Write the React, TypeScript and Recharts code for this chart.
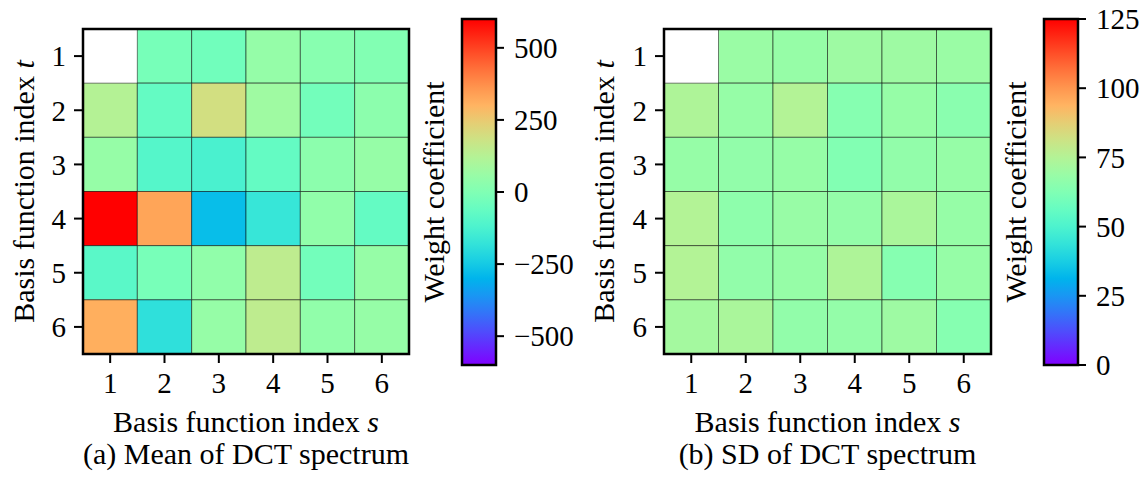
import React from 'react';
import { ComposedChart, Scatter, XAxis, YAxis, ReferenceArea } from 'recharts';

// basis function indices (s = columns, t = rows)
const sIndex = [1, 2, 3, 4, 5, 6];
const tIndex = [1, 2, 3, 4, 5, 6];

// (a) mean of DCT spectrum, rows t = 1..6, cols s = 1..6 (null = DC term, not shown)
const meanValues: (number | null)[][] = [
  [null, -20, -35, 50, 20, 5],
  [124, -65, 194, 75, -30, 30],
  [53, -100, -125, -65, 30, 53],
  [600, 331, -280, -170, 41, -65],
  [-89, -18, 41, 147, -29, 53],
  [311, -190, 53, 147, 41, 53],
];

// (b) SD of DCT spectrum
const sdValues: (number | null)[][] = [
  [null, 69, 68, 70, 70, 69],
  [74, 68, 75, 64, 68, 65],
  [68, 67, 68, 63, 67, 68],
  [75, 66, 68.5, 67.5, 73, 68],
  [75, 67, 68, 74, 64, 68],
  [71.5, 73, 67, 67.5, 70, 64],
];

const meanRange = [-600, 600];
const meanTicks = [-500, -250, 0, 250, 500];
const sdRange = [0, 125];
const sdTicks = [0, 25, 50, 75, 100, 125];

const FONT = "'Liberation Serif', 'DejaVu Serif', 'Times New Roman', serif";
const tickStyle = { fill: '#000', fontSize: 29, style: { fontFamily: FONT } };
const textStyle = { fontFamily: FONT };

// matplotlib "rainbow" colormap
const rainbow = (x: number) => {
  const c = (v: number) => Math.round(Math.min(1, Math.max(0, v)) * 255);
  const r = Math.abs(2 * x - 0.5);
  const g = Math.sin(Math.PI * x);
  const b = Math.cos((Math.PI * x) / 2);
  return `rgb(${c(r)},${c(g)},${c(b)})`;
};

const fmt = (v: number) => (v < 0 ? `\u2212${-v}` : `${v}`);

const xLabel = (caption: string) => (props: any) => {
  const { x, y, width } = props.viewBox;
  const cx = x + width / 2;
  return (
    <g>
      <text x={cx} y={y + 78} textAnchor="middle" fontSize={30} style={textStyle} fill="#000">
        Basis function index <tspan fontStyle="italic">s</tspan>
      </text>
      <text x={cx} y={y + 110} textAnchor="middle" fontSize={30} style={textStyle} fill="#000">
        {caption}
      </text>
    </g>
  );
};

const yLabel = (props: any) => {
  const { x, y, height } = props.viewBox;
  const bx = x + 34;
  const cy = y + height / 2;
  return (
    <text
      x={bx}
      y={cy}
      textAnchor="middle"
      fontSize={30}
      style={textStyle}
      fill="#000"
      transform={`rotate(-90, ${bx}, ${cy})`}
    >
      Basis function index <tspan fontStyle="italic">t</tspan>
    </text>
  );
};

const cbLabel = (props: any) => {
  const { x, y, height } = props.viewBox;
  const bx = x - 18;
  const cy = y + height / 2;
  return (
    <text
      x={bx}
      y={cy}
      textAnchor="middle"
      fontSize={30}
      style={textStyle}
      fill="#000"
      transform={`rotate(-90, ${bx}, ${cy})`}
    >
      Weight coefficient
    </text>
  );
};

interface HeatProps {
  values: (number | null)[][];
  range: number[];
  caption: string;
  left: number;
  axisWidth: number;
  marginRight: number;
}

const Heatmap: React.FC<HeatProps> = ({ values, range, caption, left, axisWidth, marginRight }) => {
  const cells = values.flatMap((row, i) =>
    row.map((v, j) => ({ s: sIndex[j], t: tIndex[i], v }))
  );
  return (
    <div style={{ position: 'absolute', left, top: 0 }}>
      <ComposedChart
        width={440}
        height={477}
        margin={{ top: 29, right: marginRight, bottom: 0, left: 0 }}
        style={textStyle}
      >
        <XAxis
          type="number"
          dataKey="s"
          domain={[0.5, 6.5]}
          ticks={sIndex}
          interval={0}
          axisLine={false}
          tickSize={9}
          tickMargin={9}
          tickLine={{ stroke: '#000', strokeWidth: 2 }}
          tick={tickStyle}
          height={123}
          allowDataOverflow
          label={xLabel(caption)}
        />
        <YAxis
          type="number"
          dataKey="t"
          domain={[0.5, 6.5]}
          ticks={tIndex}
          interval={0}
          reversed
          axisLine={false}
          tickSize={9}
          tickMargin={8}
          tickLine={{ stroke: '#000', strokeWidth: 2 }}
          tick={tickStyle}
          width={axisWidth}
          allowDataOverflow
          label={yLabel}
        />
        <Scatter data={cells} isAnimationActive={false} shape={() => <g />} />
        {cells
          .filter((c) => c.v !== null)
          .map((c) => (
            <ReferenceArea
              key={`${c.s}-${c.t}`}
              x1={c.s - 0.5}
              x2={c.s + 0.5}
              y1={c.t - 0.5}
              y2={c.t + 0.5}
              fill={rainbow(((c.v as number) - range[0]) / (range[1] - range[0]))}
              fillOpacity={1}
              stroke="#000"
              strokeOpacity={0.5}
              strokeWidth={1}
            />
          ))}
        <ReferenceArea x1={0.5} x2={6.5} y1={0.5} y2={6.5} fill="none" stroke="#000" strokeWidth={2.5} />
      </ComposedChart>
    </div>
  );
};

interface BarProps {
  id: string;
  range: number[];
  ticks: number[];
  left: number;
  width: number;
  marginLeft: number;
  axisWidth: number;
}

const ColorBar: React.FC<BarProps> = ({ id, range, ticks, left, width, marginLeft, axisWidth }) => {
  const stops = Array.from({ length: 21 }, (_, i) => i / 20);
  const ends = [
    { x: 0.5, v: range[0] },
    { x: 0.5, v: range[1] },
  ];
  return (
    <div style={{ position: 'absolute', left, top: 0 }}>
      <ComposedChart
        width={width}
        height={477}
        margin={{ top: 19, right: width - marginLeft - 34 - axisWidth, bottom: 112, left: marginLeft }}
        style={textStyle}
      >
        <defs>
          <linearGradient id={id} x1="0" y1="1" x2="0" y2="0">
            {stops.map((p) => (
              <stop key={p} offset={`${p * 100}%`} stopColor={rainbow(p)} />
            ))}
          </linearGradient>
        </defs>
        <XAxis type="number" dataKey="x" domain={[0, 1]} hide />
        <YAxis
          type="number"
          dataKey="v"
          orientation="right"
          domain={range}
          ticks={ticks}
          interval={0}
          axisLine={false}
          tickSize={8}
          tickMargin={10}
          tickLine={{ stroke: '#000', strokeWidth: 2 }}
          tick={tickStyle}
          tickFormatter={fmt}
          width={axisWidth}
          allowDataOverflow
        />
        <Scatter data={ends} isAnimationActive={false} shape={() => <g />} />
        <ReferenceArea
          x1={0}
          x2={1}
          y1={range[0]}
          y2={range[1]}
          fill={`url(#${id})`}
          fillOpacity={1}
          stroke="#000"
          strokeWidth={2.5}
          label={cbLabel}
        />
      </ComposedChart>
    </div>
  );
};

export default function App() {
  return (
    <div
      style={{
        position: 'absolute',
        left: 0,
        top: 0,
        width: 1148,
        height: 477,
        background: '#fff',
        fontFamily: FONT,
      }}
    >
      <Heatmap values={meanValues} range={meanRange} caption="(a) Mean of DCT spectrum" left={0} axisWidth={83} marginRight={31} />
      <ColorBar id="cbMean" range={meanRange} ticks={meanTicks} left={400} width={180} marginLeft={62} axisWidth={80} />
      <Heatmap values={sdValues} range={sdRange} caption="(b) SD of DCT spectrum" left={580} axisWidth={84} marginRight={29} />
      <ColorBar id="cbSd" range={sdRange} ticks={sdTicks} left={980} width={168} marginLeft={64} axisWidth={70} />
    </div>
  );
}
